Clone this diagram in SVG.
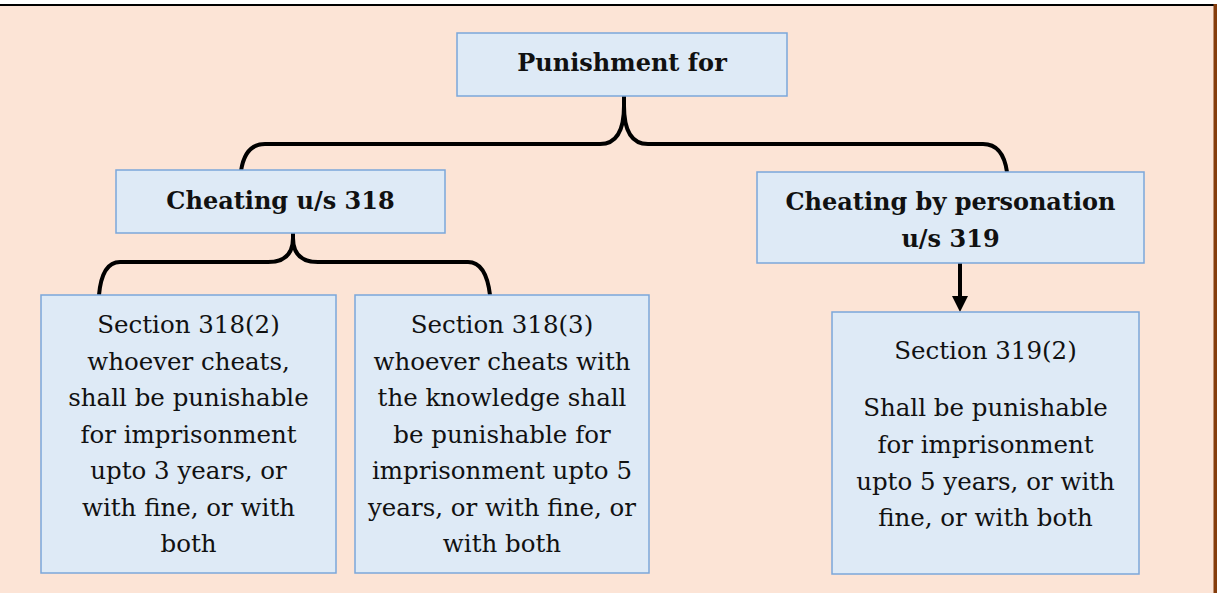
<svg xmlns="http://www.w3.org/2000/svg" width="1217" height="593" viewBox="0 0 1217 593">
<defs>
<style>
.box{fill:#DEEAF6;stroke:#7BA7DA;stroke-width:1.5}
.b{font-family:"DejaVu Serif","Liberation Serif",serif;font-weight:bold;font-size:24px;fill:#111;text-anchor:middle}
.t{font-family:"DejaVu Serif","Liberation Serif",serif;font-size:24.5px;fill:#111;text-anchor:middle}
.c{fill:none;stroke:#000;stroke-width:4;stroke-linecap:butt}
</style>
<marker id="ah" markerWidth="4" markerHeight="4" refX="4" refY="2" orient="auto" markerUnits="strokeWidth">
<path d="M0,0 L4,2 L0,4 Z" fill="#000"/>
</marker>
</defs>
<rect x="0" y="0" width="1217" height="593" fill="#FFFFFF"/>
<rect x="0" y="5" width="1214" height="588" fill="#FCE4D6"/>
<line x1="0" y1="5" x2="1214" y2="5" stroke="#000" stroke-width="2"/>
<rect x="1213.5" y="4" width="3.5" height="589" fill="#843C0C"/>

<g id="connectors">
<path class="c" d="M624,96 V106 Q624,144 600,144 H265 Q245,144 241,171"/>
<path class="c" d="M624,106 Q624,144 648,144 H983 Q1003,144 1007,172"/>
<path class="c" d="M293,233 V238 Q293,262 268,262 H120 Q102,262 99,295"/>
<path class="c" d="M293,238 Q293,262 318,262 H468 Q486,262 490,295"/>
<line class="c" x1="960" y1="263" x2="960" y2="297"/>
<path d="M952,296 L968,296 L960,312 Z" fill="#000"/>
</g>

<g id="n-punishment">
<rect class="box" x="457" y="33" width="330" height="63"/>
<text class="b" x="622" y="71">Punishment for</text>
</g>

<g id="n-cheating318">
<rect class="box" x="116" y="170" width="329" height="63"/>
<text class="b" x="280.5" y="209">Cheating u/s 318</text>
</g>

<g id="n-cheating319">
<rect class="box" x="757" y="172" width="387" height="91"/>
<text class="b" x="950.5" y="210">Cheating by personation</text>
<text class="b" x="950.5" y="247">u/s 319</text>
</g>

<g id="n-318-2">
<rect class="box" x="41" y="295" width="295" height="278"/>
<text class="t" x="188.5" y="333">Section 318(2)</text>
<text class="t" x="188.5" y="369.5">whoever cheats,</text>
<text class="t" x="188.5" y="406">shall be punishable</text>
<text class="t" x="188.5" y="442.5">for imprisonment</text>
<text class="t" x="188.5" y="479">upto 3 years, or</text>
<text class="t" x="188.5" y="515.5">with fine, or with</text>
<text class="t" x="188.5" y="552">both</text>
</g>

<g id="n-318-3">
<rect class="box" x="355" y="295" width="294" height="278"/>
<text class="t" x="502" y="333">Section 318(3)</text>
<text class="t" x="502" y="369.5">whoever cheats with</text>
<text class="t" x="502" y="406">the knowledge shall</text>
<text class="t" x="502" y="442.5">be punishable for</text>
<text class="t" x="502" y="479">imprisonment upto 5</text>
<text class="t" x="502" y="515.5">years, or with fine, or</text>
<text class="t" x="502" y="552">with both</text>
</g>

<g id="n-319-2">
<rect class="box" x="832" y="312" width="307" height="262"/>
<text class="t" x="985.5" y="359">Section 319(2)</text>
<text class="t" x="985.5" y="416">Shall be punishable</text>
<text class="t" x="985.5" y="453">for imprisonment</text>
<text class="t" x="985.5" y="489.5">upto 5 years, or with</text>
<text class="t" x="985.5" y="526">fine, or with both</text>
</g>
</svg>
